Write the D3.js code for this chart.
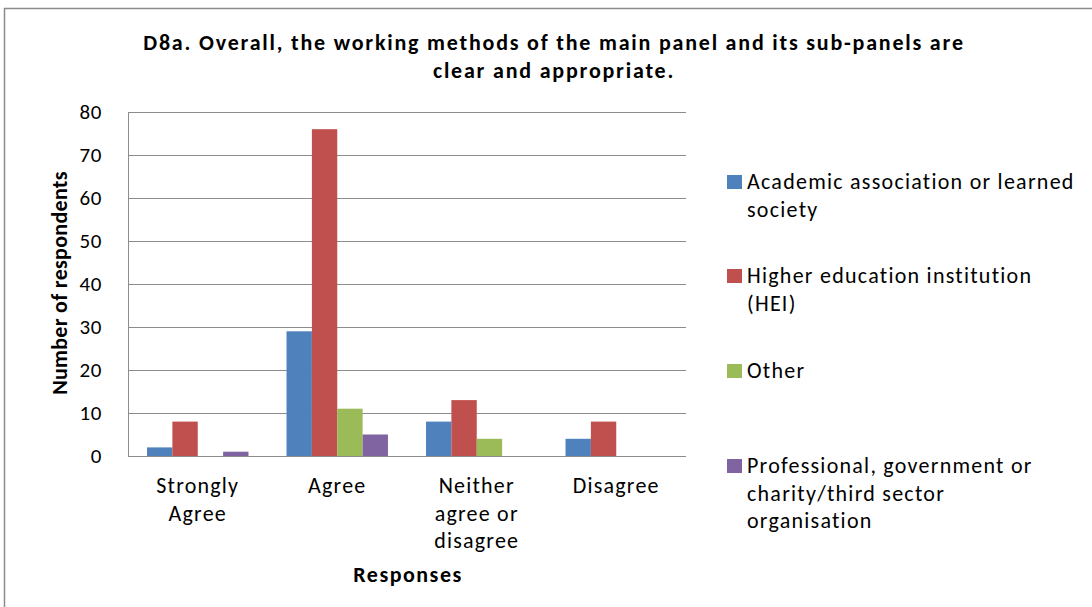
<!DOCTYPE html>
<html>
<head>
<meta charset="utf-8">
<script src="https://cdn.jsdelivr.net/npm/d3@7"></script>
<style>
  body { margin: 0; background: #fff; }
  svg text { font-family: Carlito, "Liberation Sans", Arial, sans-serif; fill: #000; }
</style>
</head>
<body>
<svg width="1092" height="607"></svg>
<script>
// chart data
var categories = [["Strongly", "Agree"], ["Agree"], ["Neither", "agree or", "disagree"], ["Disagree"]];
var seriesNames = [
  ["Academic association or learned", "society"],
  ["Higher education institution", "(HEI)"],
  ["Other"],
  ["Professional, government or", "charity/third sector", "organisation"]
];
var academic = [2, 29, 8, 4];
var hei = [8, 76, 13, 8];
var other = [0, 11, 4, 0];
var professional = [1, 5, 0, 0];
var yTicks = [0, 10, 20, 30, 40, 50, 60, 70, 80];
var colors = ["#4F81BD", "#C0504D", "#9BBB59", "#8064A2"];

var series = [academic, hei, other, professional];

var svg = d3.select("svg"),
    width = +svg.attr("width"),
    height = +svg.attr("height");

// outer chart border
svg.append("rect")
    .attr("x", 4.5).attr("y", 8.5)
    .attr("width", width).attr("height", height)
    .attr("fill", "none").attr("stroke", "#8c8c8c").attr("stroke-width", 1.5);

var plot = {left: 128, right: 686, top: 112, bottom: 456};

var x0 = d3.scaleBand()
    .domain(d3.range(categories.length))
    .range([plot.left, plot.right]);

// gap width 150% like excel
var barW = x0.bandwidth() / (series.length + 1.5);
var x1 = d3.scaleBand()
    .domain(d3.range(series.length))
    .range([0.75 * barW, 0.75 * barW + series.length * barW]);

var y = d3.scaleLinear().domain([0, 80]).range([plot.bottom, plot.top]);

// gridlines
svg.append("g")
    .selectAll("line")
    .data(yTicks)
    .enter().append("line")
    .attr("x1", plot.left).attr("x2", plot.right)
    .attr("y1", function(d) { return Math.round(y(d)) + 0.5; })
    .attr("y2", function(d) { return Math.round(y(d)) + 0.5; })
    .attr("stroke", "#8c8c8c").attr("stroke-width", 1);

// left axis line
svg.append("line")
    .attr("x1", plot.left + 0.5).attr("x2", plot.left + 0.5)
    .attr("y1", plot.top).attr("y2", plot.bottom)
    .attr("stroke", "#8c8c8c");

// y tick labels
svg.append("g")
    .selectAll("text")
    .data(yTicks)
    .enter().append("text")
    .attr("x", 102)
    .attr("y", function(d) { return y(d); })
    .attr("dy", "0.35em")
    .attr("text-anchor", "end")
    .style("font-size", "21px")
    .style("letter-spacing", "0.6px")
    .text(function(d) { return d; });

// bars
var groups = svg.append("g")
    .selectAll("g")
    .data(series)
    .enter().append("g")
    .attr("fill", function(d, i) { return colors[i]; });

groups.selectAll("rect")
    .data(function(d, i) { return d.map(function(v, c) { return {v: v, c: c, s: i}; }); })
    .enter().append("rect")
    .attr("x", function(d) { return x0(d.c) + x1(d.s); })
    .attr("width", x1.bandwidth())
    .attr("y", function(d) { return y(d.v); })
    .attr("height", function(d) { return y(0) - y(d.v); });

// category labels
var catLabels = svg.append("g")
    .selectAll("text")
    .data(categories)
    .enter().append("text")
    .attr("text-anchor", "middle")
    .attr("x", function(d, i) { return x0(i) + x0.bandwidth() / 2; })
    .attr("y", 493)
    .style("font-size", "22px")
    .style("letter-spacing", "1.2px");
catLabels.selectAll("tspan")
    .data(function(d) { return d; })
    .enter().append("tspan")
    .attr("x", function() { return d3.select(this.parentNode).attr("x"); })
    .attr("dy", function(d, i) { return i ? 27.5 : 0; })
    .text(function(d) { return d; });

// axis titles
svg.append("text")
    .attr("x", 408).attr("y", 582)
    .attr("text-anchor", "middle")
    .style("font-size", "22px").style("font-weight", "bold")
    .style("letter-spacing", "1.5px")
    .text("Responses");

svg.append("text")
    .attr("transform", "translate(67,283) rotate(-90)")
    .attr("text-anchor", "middle")
    .style("font-size", "22px").style("font-weight", "bold")
    .style("letter-spacing", "0.3px")
    .text("Number of respondents");

// title
var title = svg.append("text")
    .attr("text-anchor", "middle")
    .style("font-size", "22px").style("font-weight", "bold")
    .style("letter-spacing", "1.8px");
title.append("tspan").attr("x", 554).attr("y", 50)
    .text("D8a. Overall, the working methods of the main panel and its sub-panels are");
title.append("tspan").attr("x", 554).attr("y", 78)
    .text("clear and appropriate.");

// legend
var legendY = [189, 283, 378, 473];
var legend = svg.append("g")
    .selectAll("g")
    .data(seriesNames)
    .enter().append("g")
    .attr("transform", function(d, i) { return "translate(727," + legendY[i] + ")"; });

legend.append("rect")
    .attr("x", 0).attr("y", -14)
    .attr("width", 15).attr("height", 14)
    .attr("fill", function(d, i) { return colors[i]; });

var lt = legend.append("text")
    .attr("x", 20)
    .attr("y", 0)
    .style("font-size", "22px")
    .style("letter-spacing", "1.25px");
lt.selectAll("tspan")
    .data(function(d) { return d; })
    .enter().append("tspan")
    .attr("x", 20)
    .attr("dy", function(d, i) { return i ? 27.5 : 0; })
    .text(function(d) { return d; });
</script>
</body>
</html>
